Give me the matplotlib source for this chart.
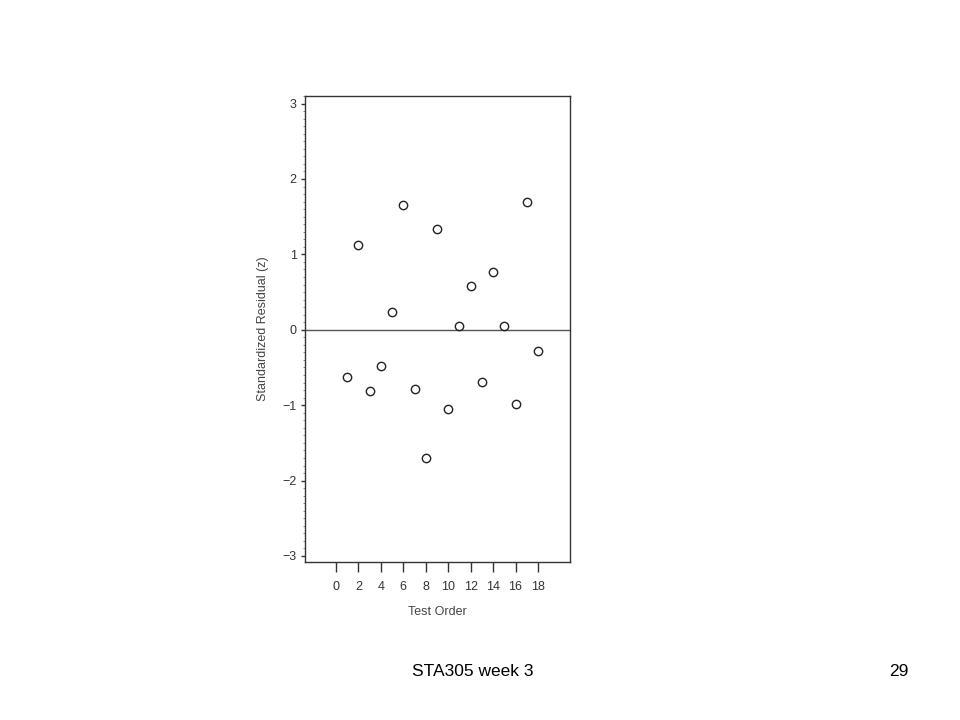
import matplotlib.pyplot as plt
from matplotlib.ticker import MultipleLocator

plt.rcParams['font.family'] = ['Liberation Sans', 'DejaVu Sans']

test_order = [1, 2, 3, 4, 5, 6, 7, 8, 9, 10, 11, 12, 13, 14, 15, 16, 17, 18]
residual = [-0.62, 1.13, -0.81, -0.48, 0.24, 1.66, -0.78, -1.70, 1.34,
            -1.05, 0.05, 0.58, -0.69, 0.76, 0.05, -0.98, 1.69, -0.28]
x_ticks = list(range(0, 19, 2))
y_ticks = [-3, -2, -1, 0, 1, 2, 3]

fig = plt.figure(figsize=(9.6, 7.2), dpi=100)
ax = fig.add_axes([0.3177, 0.2194, 0.276, 0.6472])

ax.axhline(0, color='#555555', lw=1.0)
ax.plot(test_order, residual, 'o', ms=6, mfc='none', mec='#222222', mew=1.0)

ax.set_xlim(-2.76, 20.85)
ax.set_ylim(-3.08, 3.1)
ax.set_xticks(x_ticks)
ax.set_yticks(y_ticks)
ax.set_yticklabels(['\u22123', '\u22122', '\u22121', '0', '1', '2', '3'])
ax.yaxis.set_minor_locator(MultipleLocator(0.1))

ax.tick_params(axis='x', direction='out', length=7, width=1.0, pad=7,
               labelsize=9, colors='#333333')
ax.tick_params(axis='y', which='major', direction='out', length=3, width=1.0,
               pad=3, labelsize=9, colors='#333333')
ax.tick_params(axis='y', which='minor', direction='out', length=1.5, width=0.6,
               colors='#777777')

for s in ax.spines.values():
    s.set_color('#333333')
    s.set_linewidth(1.0)

ax.set_xlabel('Test Order', fontsize=9, color='#444444', labelpad=9)
ax.set_ylabel('Standardized Residual (z)', fontsize=9, color='#444444', labelpad=10)

fig.text(0.429, 0.067, 'STA305 week 3', fontsize=12.5, ha='left', va='center')
fig.text(0.926, 0.067, '29', fontsize=12.5, ha='left', va='center')

fig.savefig('out.png', dpi=100)
